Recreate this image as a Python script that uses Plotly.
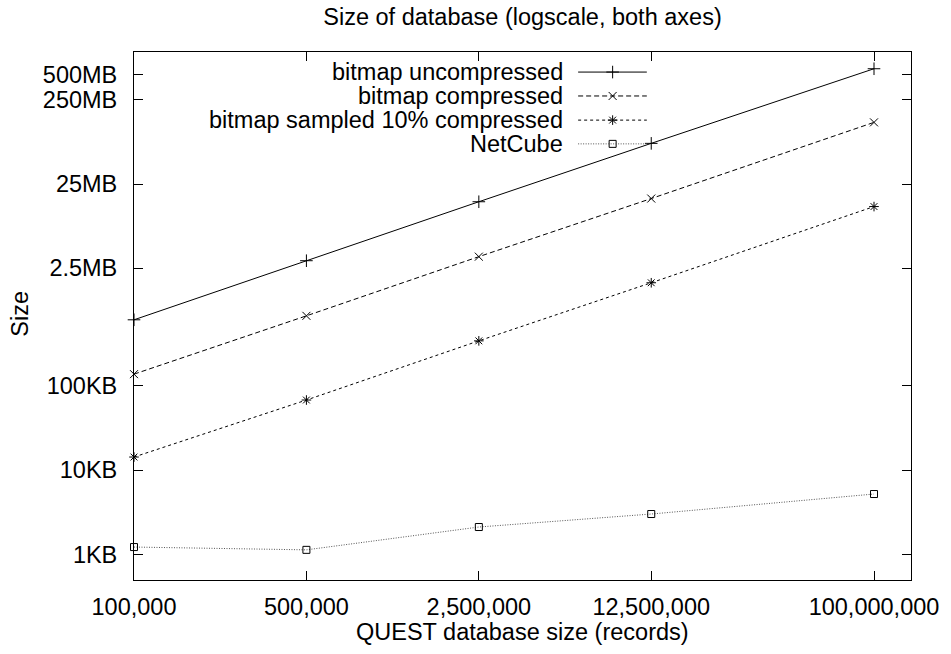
import plotly.graph_objects as go

# ---- data ----
records = [100000, 500000, 2500000, 12500000, 100000000]
x_tick_labels = ["100,000", "500,000", "2,500,000", "12,500,000", "100,000,000"]

uncompressed_kb = [610, 3070, 15400, 76000, 585000]
compressed_kb = [138, 680, 3430, 16800, 135000]
sampled_kb = [14.3, 68, 343, 1680, 13500]
netcube_kb = [1.22, 1.13, 2.11, 3.01, 5.2]

y_tick_vals = [1, 10, 100, 2500, 25000, 250000, 500000]
y_tick_labels = ["1KB", "10KB", "100KB", "2.5MB", "25MB", "250MB", "500MB"]

series_names = ["bitmap uncompressed", "bitmap compressed",
                "bitmap sampled 10% compressed", "NetCube"]
series_values = [uncompressed_kb, compressed_kb, sampled_kb, netcube_kb]

# ---- styles ----
FONT = "Liberation Sans, Arial, Helvetica, sans-serif"
FS = 23.5
styles = [
    dict(dash="solid", symbol="cross-thin", color="#000000", lcolor="#000000", size=9),
    dict(dash="5px,3px", symbol="x-thin", color="#000000", lcolor="#000000", size=8),
    dict(dash="3px,3px", symbol="asterisk", color="#000000", lcolor="#000000", size=8),
    dict(dash="1px,1.5px", symbol="square-open", color="#000000", lcolor="#555555", size=7),
]

W, H = 951, 654

fig = go.Figure()

for name, vals, st in zip(series_names, series_values, styles):
    fig.add_trace(go.Scatter(
        x=records, y=vals, name=name, mode="lines+markers",
        line=dict(color=st["lcolor"], width=1, dash=st["dash"]),
        marker=dict(symbol=st["symbol"], size=st["size"], color=st["color"],
                    line=dict(color=st["color"], width=1)),
        cliponaxis=False, showlegend=False,
    ))

# ---- custom gnuplot-style key (text right-aligned, sample to the right) ----
key_text_x = 0.555
key_x0, key_x1, key_xm = 0.5716, 0.660, 0.616
key_rows = [0.962, 0.9167, 0.871, 0.826]
for name, st, ky in zip(series_names, styles, key_rows):
    fig.add_annotation(x=key_text_x, y=ky, xref="paper", yref="paper",
                       text=name, showarrow=False, xanchor="right", yanchor="middle",
                       font=dict(family=FONT, size=FS, color="#000"))
    fig.add_shape(type="line", xref="paper", yref="paper",
                  x0=key_x0, x1=key_x1, y0=ky, y1=ky,
                  line=dict(color=st["lcolor"], width=1, dash=st["dash"]))
    fig.add_trace(go.Scatter(
        x=[key_xm], y=[ky], xaxis="x2", yaxis="y2", mode="markers",
        marker=dict(symbol=st["symbol"], size=st["size"], color=st["color"],
                    line=dict(color=st["color"], width=1)),
        showlegend=False, hoverinfo="skip", cliponaxis=False,
    ))

axis_common = dict(showgrid=False, zeroline=False, showline=True, linecolor="#000",
                   linewidth=1, mirror="ticks", ticks="inside", ticklen=9,
                   tickcolor="#000", tickwidth=1,
                   tickfont=dict(family=FONT, size=FS, color="#000"))

fig.update_layout(
    width=W, height=H,
    margin=dict(l=134, r=W - 916, t=52, b=H - 580),
    paper_bgcolor="white", plot_bgcolor="white",
    showlegend=False,
    title=dict(text="Size of database (logscale, both axes)", x=0.5, xref="paper",
               xanchor="center", y=1 - 17 / H, yanchor="middle", yref="container",
               font=dict(family=FONT, size=FS, color="#000")),
    xaxis=dict(type="log", range=[5, 8.15], tickvals=records, ticktext=x_tick_labels,
               ticklabelstandoff=6, **axis_common),
    yaxis=dict(type="log", range=[-0.305, 5.966], tickvals=y_tick_vals,
               ticktext=y_tick_labels, ticklabelstandoff=11, **axis_common),
    xaxis2=dict(overlaying="x", range=[0, 1], visible=False, fixedrange=True),
    yaxis2=dict(overlaying="y", range=[0, 1], visible=False, fixedrange=True),
)

fig.add_annotation(x=0.5, y=(580 - 632) / 528, xref="paper", yref="paper",
                   text="QUEST database size (records)", showarrow=False,
                   xanchor="center", yanchor="middle",
                   font=dict(family=FONT, size=FS, color="#000"))
fig.add_annotation(x=(19 - 134) / 782, y=(580 - 314) / 528, xref="paper", yref="paper",
                   text="Size", showarrow=False, textangle=-90,
                   xanchor="center", yanchor="middle",
                   font=dict(family=FONT, size=FS, color="#000"))

# remove the default 8px page margin so the figure fills the window exactly
fig.write_html("out.html",
               config={"displayModeBar": False},
               post_script="document.body.style.margin='0';document.body.style.overflow='hidden';")
